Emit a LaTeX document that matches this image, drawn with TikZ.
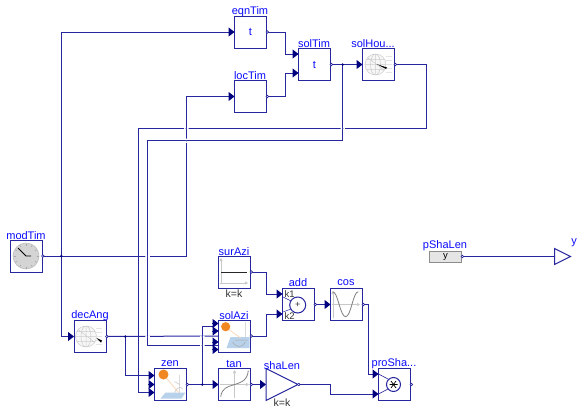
\documentclass[tikz,border=0pt]{standalone}
\usepackage{fontspec}
\setmainfont{Liberation Sans}
\usetikzlibrary{arrows.meta,calc}
\definecolor{wire}{RGB}{38,38,158}
\definecolor{tipc}{RGB}{0,0,127}
\definecolor{lbl}{RGB}{10,10,255}
\definecolor{axisg}{RGB}{200,200,200}
\definecolor{sunc}{RGB}{240,135,35}
\definecolor{planec}{RGB}{185,210,235}
\tikzset{
 x=1pt,y=-1pt,
 blockbox/.style={draw=wire,line width=1pt,fill=white,minimum width=32pt,minimum height=32pt,inner sep=0pt,outer sep=0pt},
 ghost/.style={minimum width=32pt,minimum height=32pt,inner sep=0pt,outer sep=0pt},
 wirel/.style={draw=wire,line width=1pt},
 sig/.style={wirel,-{Triangle[length=6pt,width=9pt,fill=tipc,color=tipc]}},
 namel/.style={text=lbl,font=\fontsize{11}{12}\selectfont,inner sep=0pt},
 parl/.style={text=black!80,font=\fontsize{10.5}{12}\selectfont,inner sep=0pt},
 smallp/.style={text=black!80,font=\fontsize{9.5}{10}\selectfont,inner sep=0pt},
 dotj/.style={circle,fill=tipc,inner sep=0pt,minimum size=2.6pt},
 outp/.style={circle,draw=wire,fill=white,line width=0.6pt,inner sep=0pt,minimum size=2.6pt},
 axl/.style={draw=axisg,line width=0.7pt},
 clockicon/.pic={
  \fill[black!17] (0,0) circle (13);
  \draw[black!25,line width=0.6pt] (0,0) circle (13);
  \foreach \a in {0,30,...,330}{\draw[black!35,line width=0.5pt] (\a:10.5) -- (\a:12.5);}
  \draw[black,line width=0.8pt] (-8,-8) -- (0,0) -- (5,0);
 },
 globeicon/.pic={
  \fill[black!3] (0,0) circle (10.5);
  \draw[black!20,line width=0.5pt] (0,0) circle (10.5) (0,0) ellipse (5 and 10.5) (0,-10.5) -- (0,10.5)
   (-10.5,0) -- (10.5,0) (-9,-5) -- (9,-5) (-9,5) -- (9,5) (-8,-7) -- (9,6);
  \foreach \t in {-8,-4,0,4,8}{\draw[black!10,line width=0.5pt] (10,\t) -- (16,\t);}
 },
 sunicon/.pic={
  \draw[black!14,line width=0.7pt] (9,-10) -- (9,8);
  \fill[planec] (-10,14) -- (-5,8) -- (15,8) -- (11,14) -- cycle;
  \draw[sunc!35,line width=0.7pt] (-7,-10) -- (8,8);
  \draw[black!25,line width=0.5pt] (9,0) -- (4,-3) (4,8) .. controls (6,3) and (10,2) .. (12,4);
  \fill[sunc] (-7,-10) circle (5);
 },
}
\newcommand{\hgp}[2]{\fill[white] (#1-2.2,#2-1) rectangle (#1-0.6,#2+1) (#1+0.6,#2-1) rectangle (#1+2.2,#2+1);}
\newcommand{\vgp}[2]{\fill[white] (#1-1,#2-2.2) rectangle (#1+1,#2-0.6) (#1-1,#2+0.6) rectangle (#1+1,#2+2.2);}
\begin{document}
\begin{tikzpicture}
\useasboundingbox (0,0) rectangle (584,413);
% blocks
\node[blockbox] (eqnTim) at (250.5,32) {\textcolor{lbl}{\fontsize{11}{12}\selectfont t}};
\node[blockbox] (locTim) at (250.5,96.5) {};
\node[blockbox] (solTim) at (314.5,64.5) {\textcolor{lbl}{\fontsize{11}{12}\selectfont t}};
\node[blockbox] (solHou) at (378.5,64.5) {};
\node[blockbox] (modTim) at (26,256) {};
\node[blockbox] (decAng) at (90,336.5) {};
\node[blockbox] (zen) at (170.5,384.5) {};
\node[blockbox] (solAzi) at (234.5,336) {};
\node[blockbox] (tanb) at (234.5,384.5) {};
\node[ghost] (shaLen) at (282,384.5) {};
\node[blockbox] (surAzi) at (234.5,272) {};
\node[blockbox] (add) at (298.5,304.5) {};
\node[blockbox] (cosb) at (346.5,304.5) {};
\node[blockbox] (proSha) at (394.5,384.5) {};
\node[draw=black!45,line width=1pt,fill=black!10,minimum width=32pt,minimum height=11pt,inner sep=0pt,outer sep=0pt] (pShaLen) at (445.5,256.5) {\fontsize{9.5}{10}\selectfont y};
\node[minimum width=16pt,minimum height=16pt,inner sep=0pt,outer sep=0pt] (yout) at (562.5,256.5) {};
\draw[wirel,fill=white] (shaLen.north west) -- (shaLen.east) -- (shaLen.south west) -- cycle;
\draw[wirel,fill=white] (yout.north west) -- (yout.east) -- (yout.south west) -- cycle;
% bend coordinates
\coordinate (jt) at (61.3,256);
\coordinate (jd) at (125.3,336.5);
\coordinate (jz) at (202.3,384.5);
\coordinate (js) at (342.7,64.5);
\coordinate (zenA) at (154.5,375.5);
\coordinate (zenB) at (154.5,384.5);
\coordinate (zenC) at (154.5,392.5);
\coordinate (azA) at (218.5,323.5);
\coordinate (azB) at (218.5,331);
\coordinate (azC) at (218.5,342);
\coordinate (azD) at (218.5,349.5);
\coordinate (timA) at (298.5,54);
\coordinate (timB) at (298.5,73);
\coordinate (addA) at (282.5,294);
\coordinate (addB) at (282.5,314);
\coordinate (proA) at (378.5,374);
\coordinate (proB) at (378.5,394);
% wires
\draw[wirel] (modTim.east) -- (jt);
\draw[sig] (jt) -- (61.3,32) -- (eqnTim.west);
\draw[sig] (jt) -- (186.3,256) -- (186.3,96.5) -- (locTim.west);
\draw[sig] (jt) |- (decAng.west);
\draw[sig] (eqnTim.east) -| (285.3,54) -- (timA);
\draw[sig] (locTim.east) -| (285.3,73) -- (timB);
\draw[sig] (solTim.east) -- (solHou.west);
\draw[sig] (solHou.east) -- (426.7,64.5) -- (426.7,128.3) -- (138.3,128.3) -- (138.3,392.5) -- (zenC);
\draw[wirel] (js) -- (342.7,140.7) -- (147.6,140.7) -- (147.6,345.3) -- (218.5,345.3);
\draw[sig] (212,342) -- (azC);
\draw[sig] (212,349.5) -- (azD);
\draw[wirel] (decAng.east) -- (solAzi.west);
\draw[sig] (jd) |- (zenA);
\draw[sig] (148,384.5) -- (zenB);
\draw[sig] (zen.east) -- (tanb.west);
\draw[wirel] (jz) -- (202.3,326.8) -- (212.5,326.8);
\draw[sig] (212,323.5) -- (azA);
\draw[sig] (212,331) -- (azB);
\draw[sig] (tanb.east) -- (shaLen.west);
\draw[sig] (surAzi.east) -| (266.3,294) -- (addA);
\draw[sig] (solAzi.east) -| (266.3,314) -- (addB);
\draw[sig] (add.east) -- (cosb.west);
\draw[sig] (cosb.east) -| (368.3,374) -- (proA);
\draw[sig] (shaLen.east) -| (330.3,394) -- (proB);
\draw[wirel] (pShaLen.east) -- (yout.west);
\draw[wirel] (proSha.east) -- (413,384.5);
% crossing gaps
\hgp{186.3}{128.3}
\hgp{342.7}{128.3}
\vgp{186.3}{140.7}
\hgp{147.6}{256}
\hgp{147.6}{336.5}
\hgp{202.3}{336.5}
\hgp{202.3}{345.3}
% junctions
\node[dotj] at (jt) {};
\node[dotj] at (jd) {};
\node[dotj] at (jz) {};
\node[dotj] at (js) {};
% output dots
\foreach \n in {eqnTim,locTim,solTim,solHou,modTim,decAng,zen,solAzi,tanb,shaLen,surAzi,add,cosb,proSha,pShaLen}{\node[outp] at ($(\n.east)+(0.8,0)$) {};}
% icons
\pic at (modTim) {clockicon};
\pic at ($(decAng)+(-4,0)$) {globeicon};
\fill[black] (96.5,338) -- (102,340.5) -- (101,342.5) -- cycle;
\pic at ($(solHou)+(-3,0)$) {globeicon};
\fill[black] (376.5,64) -- (387,67.5) -- (386,69) -- cycle;
\pic at (zen) {sunicon};
\begin{scope}[shift={(solAzi.center)}]
 \draw[black!14,line width=0.7pt] (10.5,-14) -- (10.5,10);
 \fill[planec] (-8,12) -- (-4,1) -- (15,1) -- (15,12) -- cycle;
 \draw[sunc!35,line width=0.7pt] (-9,-9) -- (6,2);
 \draw[black!35,line width=0.5pt] (-2,6) .. controls (2,12) and (8,12) .. (11,6) (0,4) -- (13,4);
 \fill[sunc] (-8.8,-9.3) circle (4.6);
\end{scope}
% surAzi
\draw[axl,-{Triangle[length=3pt,width=3pt]}] (221,283) -- (221,258);
\draw[axl,-{Triangle[length=3pt,width=3pt]}] (220,283) -- (248,283);
\draw[black!85,line width=0.8pt] (221,272.5) -- (247,272.5);
% cos
\draw[axl,-{Triangle[length=3pt,width=3pt]}] (333,318) -- (333,291);
\draw[axl,-{Triangle[length=3pt,width=3pt]}] (332,304.5) -- (360,304.5);
\draw[black!50,line width=0.8pt] (332.7,291.7) .. controls (338,291.7) and (340,316.7) .. (345.7,316.7) .. controls (351,316.7) and (353,291.7) .. (358.3,291.7);
% tan
\draw[axl,-{Triangle[length=3pt,width=3pt]}] (234.5,398) -- (234.5,370);
\draw[axl,-{Triangle[length=3pt,width=3pt]}] (220,384.5) -- (249,384.5);
\draw[black!50,line width=0.8pt] (220.7,396.7) .. controls (222,388) and (227,387) .. (234.5,384.5) .. controls (242,382) and (247,381) .. (248.3,370.7);
% add
\draw[wirel,line width=0.5pt] (283,297) -- (291,301) (283,312) -- (291,309);
\draw[wirel,fill=white] (297.7,305) circle (8);
\node[inner sep=0pt,text=black!80,font=\fontsize{9}{10}\selectfont] at (297.7,305) {+};
\node[smallp,anchor=west] at (284.5,294.2) {k1};
\node[smallp,anchor=west] at (284.5,315.8) {k2};
% product
\draw[wirel,line width=0.6pt] (378.5,374) -- (388,379) (378.5,394) -- (388,389);
\draw[wirel,fill=white] (393.5,384.5) circle (7);
\draw[black,line width=0.7pt] (389.5,384.5) -- (397.5,384.5) (391,381) -- (396,388) (396,381) -- (391,388);
% labels
\node[namel] at (250,11.7) {eqnTim};
\node[namel] at (250,75.5) {locTim};
\node[namel] at (314,43.7) {solTim};
\node[namel] at (373,43.7) {solHou...};
\node[namel] at (26,235.5) {modTim};
\node[namel] at (90,315.5) {decAng};
\node[namel] at (170,363.5) {zen};
\node[namel] at (234,315.5) {solAzi};
\node[namel] at (234,363.5) {tan};
\node[namel] at (282,365.5) {shaLen};
\node[namel] at (234,251.5) {surAzi};
\node[namel] at (298,283) {add};
\node[namel] at (346,283) {cos};
\node[namel] at (394,363.5) {proSha...};
\node[namel] at (445,245.5) {pShaLen};
\node[namel] at (574,243) {y};
\node[parl] at (234,293.5) {k=k};
\node[parl] at (282,403) {k=k};
\end{tikzpicture}
\end{document}
